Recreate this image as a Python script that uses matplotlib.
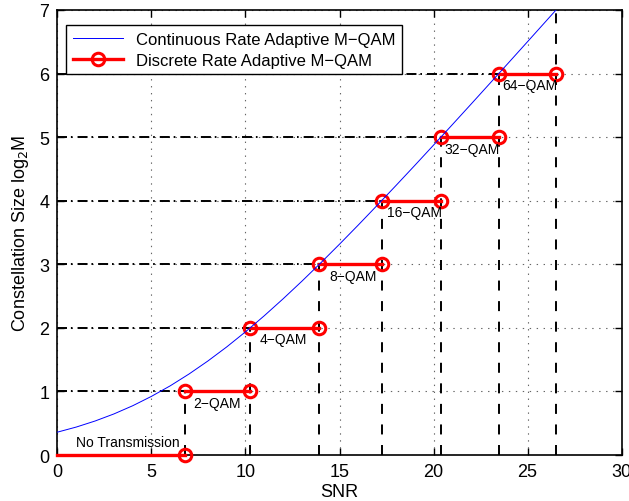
import matplotlib
matplotlib.use('Agg')
import matplotlib.pyplot as plt

# Continuous-rate curve
snr_curve = [0, 1, 2, 3, 4, 5, 6, 7, 8, 9, 10, 11, 12, 13, 14, 15, 16, 17,
             18, 19, 20, 21, 22, 23, 24, 25, 26, 27]
rate_curve = [0.360, 0.440, 0.535, 0.646, 0.775, 0.923, 1.089, 1.275, 1.479,
              1.700, 1.938, 2.191, 2.457, 2.734, 3.021, 3.316, 3.618, 3.926,
              4.238, 4.554, 4.874, 5.196, 5.520, 5.846, 6.173, 6.501, 6.830,
              7.160]

# Discrete-rate switching thresholds (SNR) and levels
thresholds = [6.77, 10.25, 13.93, 17.24, 20.39, 23.47, 26.52]
levels = [0, 1, 2, 3, 4, 5, 6]
region_labels = ['No Transmission', '2\u2212QAM', '4\u2212QAM', '8\u2212QAM',
                 '16\u2212QAM', '32\u2212QAM', '64\u2212QAM']
label_x = [1.0, 7.2, 10.76, 14.44, 17.5, 20.6, 23.68]

plt.rcParams['font.family'] = ['Liberation Sans', 'DejaVu Sans']
plt.rcParams['lines.scale_dashes'] = False

fig = plt.figure(figsize=(6.29, 5.02), dpi=100)
ax = fig.add_axes([0.0914, 0.0916, 0.8967, 0.8865])

ax.set_xlim(0, 30)
ax.set_ylim(0, 7)

# grid
ax.grid(True, linestyle=(0, (1.0, 4.0)), color='0.4', linewidth=0.8)
ax.set_axisbelow(True)

# black guide lines
for i, t in enumerate(thresholds):
    ax.plot([t, t], [0, levels[i] + 1], color='black', linewidth=1.4,
            dashes=(7.2, 7.6), zorder=2)
    if i + 1 <= 6:
        ax.plot([0, t], [levels[i] + 1] * 2, color='black', linewidth=1.4,
                dashes=(7.2, 2.8, 1.2, 3.6), zorder=2)

# discrete segments
starts = [0] + thresholds[:-1]
for i, lev in enumerate(levels):
    kw = dict(color='red', linewidth=2.4, marker='o', markersize=9,
              markerfacecolor='none', markeredgewidth=2.2, zorder=3)
    if i == 0:
        ax.plot([starts[i], thresholds[i]], [lev, lev], markevery=[1],
                clip_on=False, **kw)
    else:
        ax.plot([starts[i], thresholds[i]], [lev, lev], **kw)
legend_discrete, = ax.plot([], [], color='red', linewidth=2.4, marker='o',
                           markersize=9, markerfacecolor='none',
                           markeredgewidth=2.2)

# continuous curve
legend_cont, = ax.plot(snr_curve, rate_curve, color='blue', linewidth=0.7,
                       zorder=4)

# region labels
for i, lab in enumerate(region_labels):
    if i == 0:
        ax.text(label_x[i], 0.2, lab, fontsize=10, ha='left', va='center')
    else:
        ax.text(label_x[i], levels[i] - 0.18, lab, fontsize=10, ha='left',
                va='center')

ax.set_xticks([0, 5, 10, 15, 20, 25, 30])
ax.set_yticks([0, 1, 2, 3, 4, 5, 6, 7])
ax.tick_params(direction='in', length=5, width=1, labelsize=13,
               top=True, right=True, pad=6)
for s in ax.spines.values():
    s.set_linewidth(1.2)

ax.set_xlabel('SNR', fontsize=13, labelpad=2)
ax.set_ylabel('Constellation Size log$_2$M', fontsize=13, labelpad=6)

leg = ax.legend([legend_cont, legend_discrete],
                ['Continuous Rate Adaptive M\u2212QAM',
                 'Discrete Rate Adaptive M\u2212QAM'],
                loc='upper left', bbox_to_anchor=(0.015, 0.966),
                borderaxespad=0, fontsize=12, fancybox=False,
                edgecolor='black', framealpha=1, numpoints=1,
                handlelength=3, borderpad=0.4, labelspacing=0.35)
leg.get_frame().set_linewidth(1.0)

fig.savefig('out.png', dpi=100)
